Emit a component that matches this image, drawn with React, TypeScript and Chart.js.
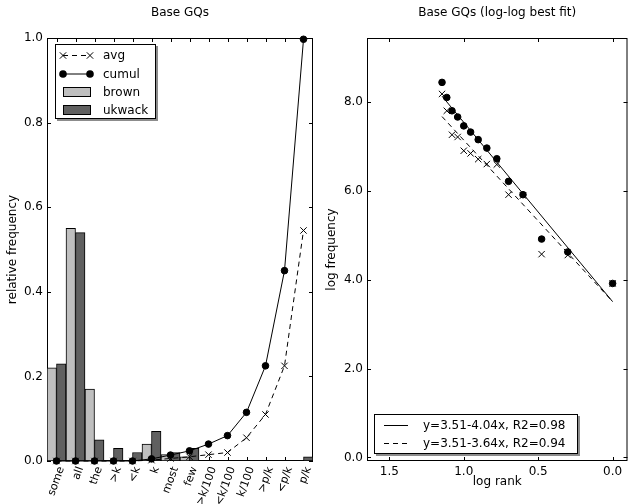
import React, { useEffect, useRef } from 'react';
import { Chart, registerables } from 'chart.js';

Chart.register(...registerables);

const FONT = '"DejaVu Sans", sans-serif';

// ---------- Left panel data ----------
const categories = ['some', 'all', 'the', '>k', '<k', 'k', 'most', 'few', '>k/100', '<k/100', 'k/100', '>p/k', '<p/k', 'p/k'];
const brown = [0.22, 0.55, 0.17, 0, 0, 0.04, 0.015, 0.01, 0, 0, 0, 0, 0, 0];
const ukwack = [0.23, 0.54, 0.05, 0.03, 0.02, 0.07, 0.02, 0.03, 0, 0, 0, 0, 0, 0.01];
const avg = [0, 0, 0, 0, 0, 0.002, 0.006, 0.01, 0.015, 0.02, 0.055, 0.11, 0.225, 0.545];
const cumul = [0, 0, 0, 0, 0, 0.005, 0.014, 0.024, 0.04, 0.06, 0.115, 0.225, 0.45, 0.997];
const leftYTicks = [0, 0.2, 0.4, 0.6, 0.8, 1.0];
const leftSeries = ['avg', 'cumul', 'brown', 'ukwack'];

// ---------- Right panel data ----------
const logRank = [1.146, 1.114, 1.079, 1.041, 1.0, 0.954, 0.903, 0.845, 0.778, 0.699, 0.602, 0.477, 0.301, 0.0];
const logFreqCumul = [8.45, 8.11, 7.81, 7.67, 7.47, 7.33, 7.16, 6.97, 6.73, 6.22, 5.92, 4.92, 4.63, 3.92];
const logFreqAvg = [8.19, 7.81, 7.27, 7.22, 6.91, 6.85, 6.72, 6.61, 6.6, 5.92, 5.9, 4.58, 4.56, 3.92];
const fitX = [1.146, 0.0];
const fitCumulY = [8.14, 3.51];
const fitAvgY = [7.68, 3.51];
const fitLabels = ['y=3.51-4.04x, R2=0.98', 'y=3.51-3.64x, R2=0.94'];
const rightXTicks = [0, 0.5, 1.0, 1.5];
const rightYTicks = [0, 2, 4, 6, 8];

const BROWN = '#bfbfbf';
const UKWACK = '#606060';

function drawX(ctx: CanvasRenderingContext2D, x: number, y: number, r: number) {
  ctx.beginPath();
  ctx.moveTo(x - r, y - r);
  ctx.lineTo(x + r, y + r);
  ctx.moveTo(x - r, y + r);
  ctx.lineTo(x + r, y - r);
  ctx.stroke();
}

function drawDot(ctx: CanvasRenderingContext2D, x: number, y: number, r: number) {
  ctx.beginPath();
  ctx.arc(x, y, r, 0, Math.PI * 2);
  ctx.fill();
}

const framePlugin = {
  id: 'frame',
  beforeDatasetsDraw(chart: any) {
    const { ctx, chartArea: a, scales } = chart;
    ctx.save();
    ctx.strokeStyle = '#000';
    ctx.lineWidth = 1;
    ctx.strokeRect(a.left + 0.5, a.top + 0.5, a.right - a.left - 1, a.bottom - a.top - 1);
    const L = 4;
    ctx.beginPath();
    const xs = scales.x;
    xs.ticks.forEach((_: any, i: number) => {
      const px = Math.round(xs.getPixelForTick(i)) + 0.5;
      ctx.moveTo(px, a.bottom);
      ctx.lineTo(px, a.bottom - L);
      ctx.moveTo(px, a.top);
      ctx.lineTo(px, a.top + L);
    });
    const ys = scales.y;
    ys.ticks.forEach((_: any, i: number) => {
      const py = Math.round(ys.getPixelForTick(i)) + 0.5;
      ctx.moveTo(a.left, py);
      ctx.lineTo(a.left + L, py);
      ctx.moveTo(a.right, py);
      ctx.lineTo(a.right - L, py);
    });
    ctx.stroke();
    ctx.restore();
  },
  afterDraw(chart: any, _args: any, opts: any) {
    const { ctx, chartArea: a } = chart;
    ctx.save();
    ctx.fillStyle = '#000';
    ctx.font = `12px ${FONT}`;
    ctx.textAlign = 'center';
    ctx.textBaseline = 'middle';
    ctx.fillText(opts.title, (a.left + a.right) / 2, 13);
    ctx.restore();
  },
};

function legendBox(ctx: CanvasRenderingContext2D, x: number, y: number, w: number, h: number) {
  ctx.fillStyle = 'rgba(0,0,0,0.45)';
  ctx.fillRect(x + 2, y + 2, w, h);
  ctx.fillStyle = '#fff';
  ctx.fillRect(x, y, w, h);
  ctx.strokeStyle = '#000';
  ctx.lineWidth = 1;
  ctx.strokeRect(x + 0.5, y + 0.5, w - 1, h - 1);
}

const leftLegendPlugin = {
  id: 'leftLegend',
  afterDraw(chart: any) {
    const { ctx, chartArea: a } = chart;
    const x = a.left + 8;
    const y = a.top + 6;
    const w = 101;
    const h = 75;
    ctx.save();
    legendBox(ctx, x, y, w, h);
    const sx0 = x + 8;
    const sx1 = x + 35;
    const rows = [y + 11, y + 29.5, y + 48, y + 66];
    ctx.strokeStyle = '#000';
    ctx.fillStyle = '#000';
    ctx.lineWidth = 1;
    // avg
    ctx.setLineDash([5, 4]);
    ctx.beginPath();
    ctx.moveTo(sx0, rows[0] + 0.5);
    ctx.lineTo(sx1, rows[0] + 0.5);
    ctx.stroke();
    ctx.setLineDash([]);
    drawX(ctx, sx0, rows[0] + 0.5, 3.2);
    drawX(ctx, sx1, rows[0] + 0.5, 3.2);
    // cumul
    ctx.beginPath();
    ctx.moveTo(sx0, rows[1] + 0.5);
    ctx.lineTo(sx1, rows[1] + 0.5);
    ctx.stroke();
    drawDot(ctx, sx0, rows[1] + 0.5, 3.8);
    drawDot(ctx, sx1, rows[1] + 0.5, 3.8);
    // bars
    [BROWN, UKWACK].forEach((c, k) => {
      const ry = Math.round(rows[2 + k] - 5);
      ctx.fillStyle = c;
      ctx.fillRect(sx0, ry, 28, 10);
      ctx.strokeStyle = '#000';
      ctx.strokeRect(sx0 + 0.5, ry + 0.5, 27, 9);
    });
    ctx.fillStyle = '#000';
    ctx.font = `12px ${FONT}`;
    ctx.textAlign = 'left';
    ctx.textBaseline = 'middle';
    leftSeries.forEach((s, i) => ctx.fillText(s, x + 48, rows[i] + 1));
    ctx.restore();
  },
};

const rightLegendPlugin = {
  id: 'rightLegend',
  afterDraw(chart: any) {
    const { ctx, chartArea: a } = chart;
    const w = 204;
    const h = 40;
    const x = a.left + 7;
    const y = a.bottom - 7 - h;
    ctx.save();
    legendBox(ctx, x, y, w, h);
    const rows = [y + 11, y + 29];
    ctx.strokeStyle = '#000';
    ctx.lineWidth = 1;
    rows.forEach((ry, i) => {
      ctx.setLineDash(i === 1 ? [5, 4] : []);
      ctx.beginPath();
      ctx.moveTo(x + 10, ry + 0.5);
      ctx.lineTo(x + 34, ry + 0.5);
      ctx.stroke();
    });
    ctx.setLineDash([]);
    ctx.fillStyle = '#000';
    ctx.font = `12px ${FONT}`;
    ctx.textAlign = 'left';
    ctx.textBaseline = 'middle';
    fitLabels.forEach((t, i) => ctx.fillText(t, x + 49, rows[i] + 1));
    ctx.restore();
  },
};

const tickFont = { family: FONT, size: 12 };

function LeftChart() {
  const ref = useRef<HTMLCanvasElement>(null);
  useEffect(() => {
    if (!ref.current) return;
    const chart = new Chart(ref.current, {
      type: 'bar',
      data: {
        labels: categories,
        datasets: [
          {
            type: 'line',
            label: leftSeries[0],
            data: avg,
            borderColor: '#000',
            borderWidth: 1,
            borderDash: [5, 4],
            pointStyle: 'crossRot',
            pointRadius: 4.5,
            pointBorderColor: '#000',
            pointBorderWidth: 1,
            pointBackgroundColor: '#000',
            tension: 0,
            fill: false,
            clip: false,
            order: 1,
          } as any,
          {
            type: 'line',
            label: leftSeries[1],
            data: cumul,
            borderColor: '#000',
            borderWidth: 1,
            pointStyle: 'circle',
            pointRadius: 3.3,
            pointBorderColor: '#000',
            pointBorderWidth: 1,
            pointBackgroundColor: '#000',
            tension: 0,
            fill: false,
            clip: false,
            order: 0,
          } as any,
          {
            type: 'bar',
            label: leftSeries[2],
            data: brown,
            backgroundColor: BROWN,
            borderColor: '#000',
            borderWidth: 1,
            borderSkipped: false,
            categoryPercentage: 1,
            barPercentage: 1,
            order: 2,
          } as any,
          {
            type: 'bar',
            label: leftSeries[3],
            data: ukwack,
            backgroundColor: UKWACK,
            borderColor: '#000',
            borderWidth: 1,
            borderSkipped: false,
            categoryPercentage: 1,
            barPercentage: 1,
            order: 2,
          } as any,
        ],
      },
      options: {
        responsive: false,
        animation: false,
        devicePixelRatio: 1,
        layout: { padding: { top: 38, left: 0, right: 7, bottom: 0 } },
        plugins: {
          legend: { display: false },
          tooltip: { enabled: false },
          title: { display: false },
          frame: { title: 'Base GQs' },
        } as any,
        scales: {
          x: {
            type: 'category',
            offset: true,
            grid: { display: false, drawTicks: false },
            border: { display: false },
            ticks: {
              autoSkip: false,
              minRotation: 70,
              maxRotation: 70,
              padding: 4,
              labelOffset: 5,
              color: '#000',
              font: { family: FONT, size: 11 },
            },
            afterFit: (s: any) => {
              s.height = 43;
              s.paddingLeft = 0;
              s.paddingRight = 0;
            },
          },
          y: {
            type: 'linear',
            min: 0,
            max: 1,
            grid: { display: false, drawTicks: false },
            border: { display: false },
            afterBuildTicks: (s: any) => {
              s.ticks = leftYTicks.map((v) => ({ value: v }));
            },
            ticks: {
              padding: 4,
              color: '#000',
              font: tickFont,
              callback: (v: any) => Number(v).toFixed(1),
            },
            title: {
              display: true,
              text: 'relative frequency',
              color: '#000',
              font: tickFont,
              padding: { top: 6, bottom: 0 },
            },
            afterFit: (s: any) => {
              s.width = 47;
            },
          },
        },
      } as any,
      plugins: [framePlugin, leftLegendPlugin],
    });
    return () => chart.destroy();
  }, []);
  return <canvas ref={ref} width={320} height={504} style={{ width: 320, height: 504, display: 'block' }} />;
}

function RightChart() {
  const ref = useRef<HTMLCanvasElement>(null);
  useEffect(() => {
    if (!ref.current) return;
    const chart = new Chart(ref.current, {
      type: 'scatter',
      data: {
        datasets: [
          {
            label: 'cumul',
            data: logRank.map((x, i) => ({ x, y: logFreqCumul[i] })),
            pointStyle: 'circle',
            pointRadius: 3.3,
            pointBackgroundColor: '#000',
            pointBorderColor: '#000',
            pointBorderWidth: 1,
            showLine: false,
            clip: false,
          } as any,
          {
            label: 'avg',
            data: logRank.map((x, i) => ({ x, y: logFreqAvg[i] })),
            pointStyle: 'crossRot',
            pointRadius: 4.5,
            pointBackgroundColor: '#000',
            pointBorderColor: '#000',
            pointBorderWidth: 1,
            showLine: false,
            clip: false,
          } as any,
          {
            label: fitLabels[0],
            data: fitX.map((x, i) => ({ x, y: fitCumulY[i] })),
            showLine: true,
            pointRadius: 0,
            borderColor: '#000',
            borderWidth: 1,
            tension: 0,
          } as any,
          {
            label: fitLabels[1],
            data: fitX.map((x, i) => ({ x, y: fitAvgY[i] })),
            showLine: true,
            pointRadius: 0,
            borderColor: '#000',
            borderWidth: 1,
            borderDash: [5, 4],
            tension: 0,
          } as any,
        ],
      },
      options: {
        responsive: false,
        animation: false,
        devicePixelRatio: 1,
        layout: { padding: { top: 38, left: 0, right: 0, bottom: 0 } },
        plugins: {
          legend: { display: false },
          tooltip: { enabled: false },
          title: { display: false },
          frame: { title: 'Base GQs (log-log best fit)' },
        } as any,
        scales: {
          x: {
            type: 'linear',
            reverse: true,
            min: -0.1,
            max: 1.65,
            grid: { display: false, drawTicks: false },
            border: { display: false },
            afterBuildTicks: (s: any) => {
              s.ticks = rightXTicks.map((v) => ({ value: v }));
            },
            ticks: {
              padding: 4,
              maxRotation: 0,
              color: '#000',
              font: tickFont,
              callback: (v: any) => Number(v).toFixed(1),
            },
            title: {
              display: true,
              text: 'log rank',
              color: '#000',
              font: tickFont,
              padding: { top: 0, bottom: 15 },
            },
            afterFit: (s: any) => {
              s.height = 43;
              s.paddingLeft = 0;
              s.paddingRight = 0;
            },
          },
          y: {
            type: 'linear',
            min: -0.08,
            max: 9.45,
            grid: { display: false, drawTicks: false },
            border: { display: false },
            afterBuildTicks: (s: any) => {
              s.ticks = rightYTicks.map((v) => ({ value: v }));
            },
            ticks: {
              padding: 4,
              color: '#000',
              font: tickFont,
              callback: (v: any) => Number(v).toFixed(1),
            },
            title: {
              display: true,
              text: 'log frequency',
              color: '#000',
              font: tickFont,
              padding: { top: 4.5, bottom: 0 },
            },
            afterFit: (s: any) => {
              s.width = 47;
            },
          },
        },
      } as any,
      plugins: [framePlugin, rightLegendPlugin],
    });
    return () => chart.destroy();
  }, []);
  return <canvas ref={ref} width={313} height={504} style={{ width: 313, height: 504, display: 'block' }} />;
}

export default function App() {
  return (
    <div
      style={{
        position: 'absolute',
        left: 0,
        top: 0,
        width: 631,
        height: 504,
        overflow: 'hidden',
        background: '#fff',
      }}
    >
      <div style={{ position: 'absolute', left: 0, top: 0, width: 320, height: 504 }}>
        <LeftChart />
      </div>
      <div style={{ position: 'absolute', left: 320, top: 0, width: 313, height: 504 }}>
        <RightChart />
      </div>
    </div>
  );
}
